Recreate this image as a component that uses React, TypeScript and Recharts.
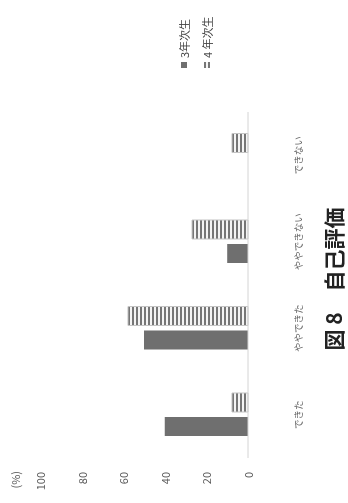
import { BarChart, Bar, XAxis, YAxis } from 'recharts';

// Self-assessment (%), chart is printed rotated 90° on the page
const categories = ['できた', 'ややできた', 'ややできない', 'できない'];
const year3 = [40, 50, 10, 0];
const year4 = [7.7, 57.7, 26.9, 7.7];
const yTicks = [0, 20, 40, 60, 80, 100];
const seriesNames = ['3年次生', '4 年次生'];
const title = '図 8　自己評価';

const data = categories.map((name, i) => ({ name, y3: year3[i], y4: year4[i] }));

const FONT = '"Noto Sans CJK JP", "Noto Sans", sans-serif';
const W = 503; // unrotated width
const H = 348; // unrotated height

function YTick({ y, payload }: any) {
  return (
    <text x={31} y={y} textAnchor="end" dominantBaseline="central" fontSize={11} fill="#595959" fontFamily={FONT}>
      {payload.value}
    </text>
  );
}

function XTick({ x, payload }: any) {
  return (
    <text x={x} y={298} textAnchor="middle" dominantBaseline="central" fontSize={9.5} fill="#666" fontFamily={FONT}>
      {payload.value}
    </text>
  );
}

export default function App() {
  return (
    <div style={{ position: 'absolute', left: 0, top: 0, width: 348, height: 503, overflow: 'hidden', background: '#fff' }}>
      <svg width={0} height={0} style={{ position: 'absolute' }}>
        <defs>
          <pattern id="stripes" patternUnits="userSpaceOnUse" width={8} height={4}>
            <rect width={8} height={4} fill="#f4f4f4" />
            <rect width={8} height={2} fill="#767676" />
          </pattern>
        </defs>
      </svg>
      <div
        style={{
          position: 'absolute',
          left: 0,
          top: 0,
          width: W,
          height: H,
          background: '#fff',
          willChange: 'transform',
          transformOrigin: '0 0',
          transform: `translateY(${W}px) rotate(-90deg)`,
        }}
      >
        <BarChart
          width={W}
          height={H}
          data={data}
          margin={{ top: 40, right: 112, bottom: 70, left: 0 }}
          barGap={5}
        >
          <XAxis dataKey="name" tick={<XTick />} tickLine={false} axisLine={{ stroke: '#d4d4d4' }} interval={0} />
          <YAxis domain={[0, 100]} ticks={yTicks} width={45} tick={<YTick />} tickLine={false} axisLine={false} />
          <Bar dataKey="y3" name={seriesNames[0]} fill="#6f6f6f" barSize={19} isAnimationActive={false} />
          <Bar
            dataKey="y4"
            name={seriesNames[1]}
            fill="url(#stripes)"
            stroke="#c4c4c4"
            strokeWidth={1}
            barSize={19}
            isAnimationActive={false}
          />
        </BarChart>
        <svg width={W} height={H} style={{ position: 'absolute', left: 0, top: 0, pointerEvents: 'none' }}>
          <text x={32} y={15} textAnchor="end" dominantBaseline="central" fontSize={11} fill="#595959" fontFamily={FONT}>
            (%)
          </text>
          <rect x={435} y={181} width={6} height={6} fill="#6f6f6f" />
          <text x={445} y={184} dominantBaseline="central" fontSize={11} fill="#404040" fontFamily={FONT}>
            {seriesNames[0]}
          </text>
          <rect x={435} y={204} width={6} height={6} fill="url(#stripes)" />
          <text x={445} y={207} dominantBaseline="central" fontSize={11} fill="#404040" fontFamily={FONT}>
            {seriesNames[1]}
          </text>
          <text
            x={224}
            y={333}
            textAnchor="middle"
            dominantBaseline="central"
            fontSize={21}
            fontWeight="bold"
            fill="#222"
            fontFamily={FONT}
          >
            {title}
          </text>
        </svg>
      </div>
    </div>
  );
}
